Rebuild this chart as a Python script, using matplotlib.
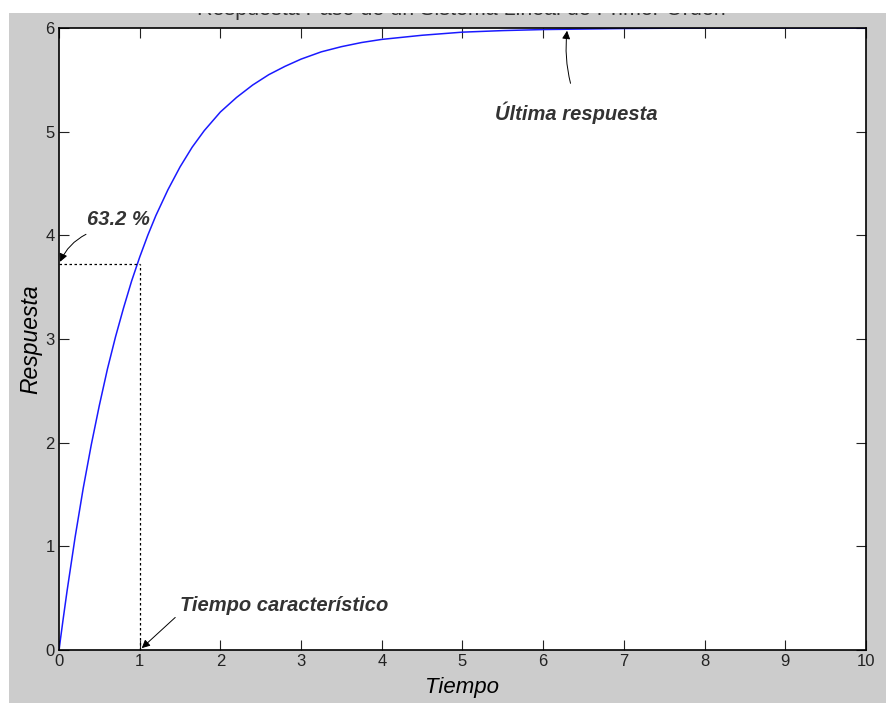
import matplotlib.pyplot as plt
from matplotlib.patches import Rectangle

# Step response
tiempo = [0, 0.05, 0.1, 0.2, 0.3, 0.4, 0.5, 0.6, 0.7, 0.8, 0.9, 1.0, 1.1, 1.2, 1.35, 1.5, 1.65, 1.8,
          2.0, 2.2, 2.4, 2.6, 2.8, 3.0, 3.25, 3.5, 3.75, 4.0, 4.5, 5.0, 5.5, 6.0, 7.0, 8.0, 10.0]
respuesta = [0, 0.29, 0.57, 1.09, 1.56, 1.98, 2.36, 2.71, 3.02, 3.30, 3.56, 3.79, 4.00, 4.19, 4.44,
             4.66, 4.85, 5.01, 5.19, 5.33, 5.45, 5.55, 5.63, 5.70, 5.77, 5.82, 5.86, 5.89, 5.93,
             5.96, 5.975, 5.985, 5.995, 6.0, 6.0]

tau = 1.0
y_tau = 3.72
t_final = 6.3

x_ticks = list(range(0, 11))
y_ticks = list(range(0, 7))

plt.rcParams['font.family'] = ['Liberation Sans', 'DejaVu Sans']

fig = plt.figure(figsize=(8.87, 7.03), dpi=100, facecolor='white')
# grey MATLAB figure background (starts a few pixels in from top/left)
fig.patches.append(Rectangle((9 / 887, 0), 1, 1 - 13 / 703, transform=fig.transFigure,
                             facecolor='#cccccc', edgecolor='none', zorder=-10))

ax = fig.add_axes([59 / 887, 53 / 703, 807 / 887, 622 / 703])
ax.set_facecolor('white')
ax.plot(tiempo, respuesta, color='#1a1aff', linewidth=1.1)

# dotted guides at the characteristic time
ax.plot([0, tau], [y_tau, y_tau], color='black', linestyle=(0, (2, 2)), linewidth=0.9)
ax.plot([tau, tau], [0, y_tau], color='black', linestyle=(0, (2, 2)), linewidth=0.9)

ax.set_xlim(0, 10)
ax.set_ylim(0, 6)
ax.set_xticks(x_ticks)
ax.set_yticks(y_ticks)
ax.tick_params(direction='in', length=7, width=0.8, top=True, right=True,
               labelsize=12, pad=3, colors='#222222')
for sp in ax.spines.values():
    sp.set_linewidth(1.2)

ax.set_xlabel('Tiempo', fontsize=16, style='italic', labelpad=6)
ax.set_ylabel('Respuesta', fontsize=16.5, style='italic', labelpad=2)

# title, its upper half hidden behind the white strip at the top as in the screenshot
fig.text(0.52, 1 - 10 / 703, 'Respuesta Paso de un Sistema Lineal de Primer Orden',
         ha='center', va='center', fontsize=15.5, color='#333333')
fig.patches.append(Rectangle((0, 1 - 13 / 703), 1, 13 / 703, transform=fig.transFigure,
                             facecolor='white', edgecolor='none', zorder=10))

note = dict(fontsize=14.5, fontweight='bold', style='italic', color='#333333')

ax.annotate('63.2 %', xy=(0, y_tau), xytext=(0.35, 4.15), ha='left', va='center',
            arrowprops=dict(arrowstyle='-|>', color='black', lw=0.7, mutation_scale=12,
                            relpos=(0.02, -0.2), connectionstyle='arc3,rad=0.2'), **note)

ax.annotate('Tiempo característico', xy=(tau, 0), xytext=(1.5, 0.43), ha='left', va='center',
            arrowprops=dict(arrowstyle='-|>', color='black', lw=0.7, mutation_scale=12,
                            relpos=(0, 0.1)), **note)

ax.annotate('Última respuesta', xy=(t_final, 6.0), xytext=(5.4, 5.18), ha='left', va='center',
            arrowprops=dict(arrowstyle='-|>', color='black', lw=0.7, mutation_scale=12,
                            relpos=(0.47, 1.7), connectionstyle='arc3,rad=-0.1'), **note)

fig.savefig('out.png', dpi=100, facecolor=fig.get_facecolor())
